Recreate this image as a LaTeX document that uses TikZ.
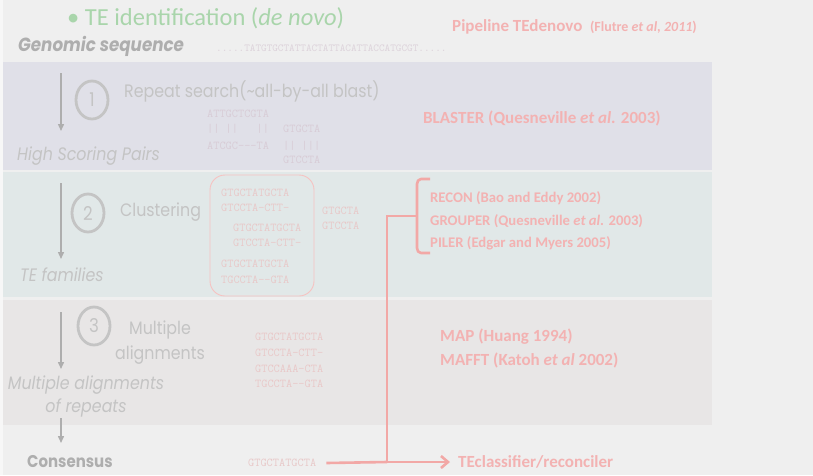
\documentclass[tikz,border=0pt]{standalone}
\usepackage{fontspec}
\setmainfont{Carlito}
\newfontfamily\thin{Poppins}[FakeStretch=0.88]
\newcommand\seqfont{\ttfamily}
\usetikzlibrary{arrows.meta,shapes.geometric}
\definecolor{bgcol}{HTML}{EFEFEF}
\definecolor{bandA}{HTML}{E0E0E8}
\definecolor{bandB}{HTML}{E1E8E8}
\definecolor{bandC}{HTML}{E8E6E6}
\definecolor{greytxt}{HTML}{C4C4C4}
\definecolor{darkgrey}{HTML}{AEAEAE}
\definecolor{pinktxt}{HTML}{F3B2B2}
\definecolor{pinkline}{HTML}{F2A8A6}
\definecolor{greentxt}{HTML}{A9D5AB}
\definecolor{seqA}{HTML}{D8CCD6}
\definecolor{seqB}{HTML}{E8C8C8}
\tikzset{
  lbl/.style={inner sep=0pt, anchor=west},
  steptxt/.style={lbl, font=\thin\fontsize{18}{20}\selectfont, text=greytxt},
  stateit/.style={lbl, font=\thin\itshape\fontsize{18}{20}\selectfont, text=greytxt},
  tool/.style={lbl, font=\bfseries\fontsize{17}{20}\selectfont, text=pinktxt},
  brtool/.style={lbl, font=\bfseries\fontsize{14.7}{17}\selectfont, text=pinktxt},
  seq/.style={lbl, font=\seqfont\fontsize{12}{13}\selectfont, text=seqB},
  stepnum/.style={ellipse, draw=greytxt, line width=2.8pt, minimum width=32pt, minimum height=38pt,
    inner sep=0pt, font=\thin\fontsize{19}{21}\selectfont, text=greytxt},
  flow/.style={draw=darkgrey, line width=1.4pt, -{Triangle[length=7pt,width=6pt]}},
  pinkpath/.style={draw=pinkline, line width=2.6pt}
}
\begin{document}
\begin{tikzpicture}[x=1pt,y=-1pt]
\useasboundingbox (0,0) rectangle (813,475);
\fill[bgcol] (0,0) rectangle (813,475);
\fill[white!50!bgcol] (0,0) rectangle (3,475);
% stage bands
\fill[bandA] (3,62) rectangle (712,170);
\fill[bandB] (3,172) rectangle (712,297);
\fill[bandC] (3,300) rectangle (712,425);

% header
\node[lbl, font=\fontsize{24.5}{28}\selectfont, text=greentxt] (title) at (67,18)
  {\textbullet\ TE identification (\textit{de novo})};
\node[lbl, font=\bfseries\fontsize{17}{20}\selectfont, text=pinktxt] (pipe) at (452,27)
  {Pipeline TEdenovo\ \ {\fontsize{14}{16}\selectfont(Flutre \textit{et al, 2011})}};
\node[lbl, font=\thin\bfseries\itshape\fontsize{19}{21}\selectfont, text=darkgrey] (genome) at (18,46) {Genomic sequence};
\node[lbl, font=\seqfont\fontsize{10.7}{12}\selectfont, text=seqA!80!bgcol] (gseq) at (216,48)
  {.....TATGTGCTATTACTATTACATTACCATGCGT.....};

% stage 1
\coordinate (a1s) at (61,73);
\coordinate (a1e) at (61,131);
\draw[flow] (a1s) -- (a1e);
\node[stepnum] (n1) at (92,100) {1};
\node[steptxt] (s1) at (124,91) {Repeat search(\textasciitilde all-by-all blast)};
\node[seq, text=seqA] (h1) at (207,114) {ATTGCTCGTA};
\node[seq, text=seqA] (h2) at (207,129) {|| ||\ \ \ ||};
\node[seq, text=seqA] (h3) at (207,146) {ATCGC---TA};
\node[seq, text=seqA] (h4) at (283,129) {GTGCTA};
\node[seq, text=seqA] (h5) at (283,146) {|| |||};
\node[seq, text=seqA] (h6) at (283,160) {GTCCTA};
\node[tool] (blaster) at (423,118) {BLASTER (Quesneville \textit{et al.} 2003)};
\node[stateit] (hsp) at (17,156) {High Scoring Pairs};

% stage 2
\coordinate (a2s) at (61,183);
\coordinate (a2e) at (61,259);
\draw[flow] (a2s) -- (a2e);
\node[stepnum] (n2) at (88,213) {2};
\node[steptxt] (s2) at (120,212) {Clustering};
\node[draw=pinkline!70, line width=0.9pt, rounded corners=15pt, minimum width=104pt, minimum height=121pt] (fam) at (262,235.5) {};
\node[seq] (c1) at (221,193) {GTGCTATGCTA};
\node[seq] (c2) at (221,208) {GTCCTA-CTT-};
\node[seq] (c3) at (233,228) {GTGCTATGCTA};
\node[seq] (c4) at (233,243) {GTCCTA-CTT-};
\node[seq] (c5) at (221,264) {GTGCTATGCTA};
\node[seq] (c6) at (221,280) {TGCCTA--GTA};
\node[seq] (c7) at (322,211) {GTGCTA};
\node[seq] (c8) at (322,226) {GTCCTA};
\node[stateit] (fams) at (20,275) {TE families};
\node[brtool] (recon) at (430,198) {RECON (Bao and Eddy 2002)};
\node[brtool] (grouper) at (430,221) {GROUPER (Quesneville \textit{et al.} 2003)};
\node[brtool] (piler) at (430,243) {PILER (Edgar and Myers 2005)};

% stage 3
\coordinate (a3s) at (61,312);
\coordinate (a3e) at (61,369);
\draw[flow] (a3s) -- (a3e);
\node[stepnum] (n3) at (94,326) {3};
\node[steptxt, anchor=center] (s3a) at (160,330) {Multiple};
\node[steptxt, anchor=center] (s3b) at (160,355) {alignments};
\node[seq] (m1) at (255,337) {GTGCTATGCTA};
\node[seq] (m2) at (255,353) {GTCCTA-CTT-};
\node[seq] (m3) at (255,369) {GTCCAAA-CTA};
\node[seq] (m4) at (255,384) {TGCCTA--GTA};
\node[stateit, anchor=center] (mal) at (86,385) {Multiple alignments};
\node[stateit, anchor=center] (rep) at (86,408) {of repeats};
\node[tool] (map) at (440,337) {MAP (Huang 1994)};
\node[tool] (mafft) at (440,360) {MAFFT (Katoh \textit{et al} 2002)};

% consensus
\coordinate (a4s) at (61,418);
\coordinate (a4e) at (61,443);
\draw[flow] (a4s) -- (a4e);
\node[lbl, font=\thin\bfseries\fontsize{17}{19}\selectfont, text=darkgrey] (cons) at (27,462) {Consensus};
\node[seq] (cseq) at (248,463) {GTGCTATGCTA};
\node[tool] (tecl) at (458,462) {TEclassifier/reconciler};

% classification route
\coordinate (j) at (387,462);
\coordinate (b) at (387,216);
\draw[pinkpath] (cseq.east) ++(10,0) -- (j);
\draw[pinkpath, -{Straight Barb[length=7pt,width=12pt]}] (j) -- ([xshift=-8pt]tecl.west);
\draw[pinkpath] (j) -- (b) -- (417,216);
\draw[pinkpath, line join=round] (430,179) -- (421,179) to[out=180,in=90] (417,184) -- (417,248) to[out=-90,in=180] (421,253) -- (430,253);
\end{tikzpicture}
\end{document}
